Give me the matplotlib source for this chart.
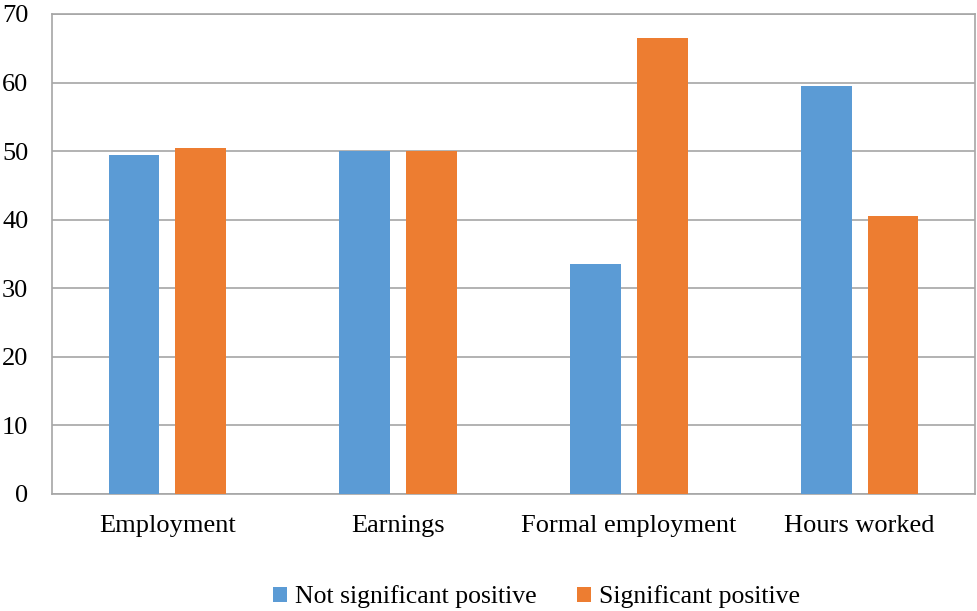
import matplotlib
matplotlib.use("Agg")
import matplotlib.pyplot as plt
import numpy as np

categories = ["Employment", "Earnings", "Formal employment", "Hours worked"]
not_sig = [49.5, 50.0, 33.5, 59.5]
sig = [50.5, 50.0, 66.5, 40.5]
series_names = ["Not significant positive", "Significant positive"]
yticks = [0, 10, 20, 30, 40, 50, 60, 70]

plt.rcParams['font.family'] = ['Liberation Serif', 'DejaVu Serif']

fig = plt.figure(figsize=(9.77, 6.11), dpi=100)
ax = fig.add_axes([52/977, (611-494)/611, (975-52)/977, (494-14)/611])

x = np.arange(len(categories))
w = 0.22
off = 0.145
ax.bar(x - off, not_sig, w, color="#5B9BD5", label=series_names[0], zorder=3)
ax.bar(x + off, sig, w, color="#ED7D31", label=series_names[1], zorder=3)

ax.set_xlim(-0.5, len(categories) - 0.5)
ax.set_ylim(0, 70)
ax.set_yticks(yticks)
ax.set_xticks(x)
ax.set_xticklabels(categories)
ax.yaxis.grid(True, color="#A6A6A6", linewidth=1.2, zorder=0)
for s in ax.spines.values():
    s.set_color("#A6A6A6")
    s.set_linewidth(1.2)
ax.tick_params(axis='both', length=0, labelsize=19, colors="#000000")
ax.tick_params(axis='x', pad=15)
ax.tick_params(axis='y', pad=17)

fig.legend(loc='center', bbox_to_anchor=(0.549, 0.023), ncol=2, frameon=False,
           fontsize=18.5, handlelength=0.55, handleheight=0.55, handletextpad=0.3,
           columnspacing=1.6)

fig.savefig("out.png", dpi=100)
